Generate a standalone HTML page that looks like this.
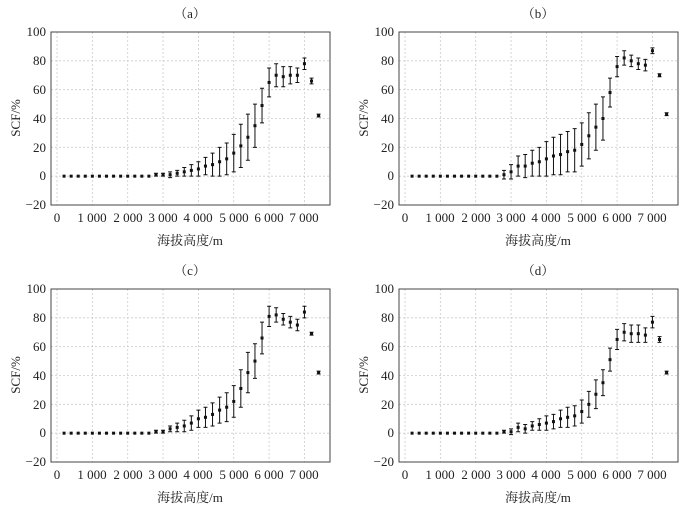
<!DOCTYPE html>
<html><head><meta charset="utf-8">
<style>
html,body{margin:0;padding:0;background:#fff;}
svg{display:block;font-family:"Liberation Serif","Noto Serif CJK SC",serif;}
.t{font-size:13px;fill:#222;}
.g{stroke:#ccc;stroke-width:0.8;stroke-dasharray:2,2;}
</style></head><body>
<svg id="s" width="700" height="507" viewBox="0 0 700 507">
<g id="p0" transform="translate(51,32)">
<text class="t" x="139" y="-14" text-anchor="middle">（a）</text>
<text class="t" x="-5" y="4" text-anchor="end">100</text><text class="t" x="-5" y="33" text-anchor="end">80</text><text class="t" x="-5" y="62" text-anchor="end">60</text><text class="t" x="-5" y="91" text-anchor="end">40</text><text class="t" x="-5" y="120" text-anchor="end">20</text><text class="t" x="-5" y="148" text-anchor="end">0</text><text class="t" x="-5" y="177" text-anchor="end">−20</text>
<text class="t" x="6" y="190" text-anchor="middle">0</text><text class="t" x="41" y="190" text-anchor="middle">1 000</text><text class="t" x="77" y="190" text-anchor="middle">2 000</text><text class="t" x="112" y="190" text-anchor="middle">3 000</text><text class="t" x="147" y="190" text-anchor="middle">4 000</text><text class="t" x="183" y="190" text-anchor="middle">5 000</text><text class="t" x="218" y="190" text-anchor="middle">6 000</text><text class="t" x="253" y="190" text-anchor="middle">7 000</text>
<text class="t" x="139" y="213" text-anchor="middle">海拔高度/m</text>
<text class="t" x="-31" y="86" text-anchor="middle" transform="rotate(-90 -31 86)">SCF/%</text>
</g>
<g id="p1" transform="translate(399,32)">
<text class="t" x="139" y="-14" text-anchor="middle">（b）</text>
<text class="t" x="-5" y="4" text-anchor="end">100</text><text class="t" x="-5" y="33" text-anchor="end">80</text><text class="t" x="-5" y="62" text-anchor="end">60</text><text class="t" x="-5" y="91" text-anchor="end">40</text><text class="t" x="-5" y="120" text-anchor="end">20</text><text class="t" x="-5" y="148" text-anchor="end">0</text><text class="t" x="-5" y="177" text-anchor="end">−20</text>
<text class="t" x="6" y="190" text-anchor="middle">0</text><text class="t" x="41" y="190" text-anchor="middle">1 000</text><text class="t" x="77" y="190" text-anchor="middle">2 000</text><text class="t" x="112" y="190" text-anchor="middle">3 000</text><text class="t" x="147" y="190" text-anchor="middle">4 000</text><text class="t" x="183" y="190" text-anchor="middle">5 000</text><text class="t" x="218" y="190" text-anchor="middle">6 000</text><text class="t" x="253" y="190" text-anchor="middle">7 000</text>
<text class="t" x="139" y="213" text-anchor="middle">海拔高度/m</text>
<text class="t" x="-31" y="86" text-anchor="middle" transform="rotate(-90 -31 86)">SCF/%</text>
</g>
<g id="p2" transform="translate(51,289)">
<text class="t" x="139" y="-14" text-anchor="middle">（c）</text>
<text class="t" x="-5" y="4" text-anchor="end">100</text><text class="t" x="-5" y="33" text-anchor="end">80</text><text class="t" x="-5" y="62" text-anchor="end">60</text><text class="t" x="-5" y="91" text-anchor="end">40</text><text class="t" x="-5" y="120" text-anchor="end">20</text><text class="t" x="-5" y="148" text-anchor="end">0</text><text class="t" x="-5" y="177" text-anchor="end">−20</text>
<text class="t" x="6" y="190" text-anchor="middle">0</text><text class="t" x="41" y="190" text-anchor="middle">1 000</text><text class="t" x="77" y="190" text-anchor="middle">2 000</text><text class="t" x="112" y="190" text-anchor="middle">3 000</text><text class="t" x="147" y="190" text-anchor="middle">4 000</text><text class="t" x="183" y="190" text-anchor="middle">5 000</text><text class="t" x="218" y="190" text-anchor="middle">6 000</text><text class="t" x="253" y="190" text-anchor="middle">7 000</text>
<text class="t" x="139" y="213" text-anchor="middle">海拔高度/m</text>
<text class="t" x="-31" y="86" text-anchor="middle" transform="rotate(-90 -31 86)">SCF/%</text>
</g>
<g id="p3" transform="translate(399,289)">
<text class="t" x="139" y="-14" text-anchor="middle">（d）</text>
<text class="t" x="-5" y="4" text-anchor="end">100</text><text class="t" x="-5" y="33" text-anchor="end">80</text><text class="t" x="-5" y="62" text-anchor="end">60</text><text class="t" x="-5" y="91" text-anchor="end">40</text><text class="t" x="-5" y="120" text-anchor="end">20</text><text class="t" x="-5" y="148" text-anchor="end">0</text><text class="t" x="-5" y="177" text-anchor="end">−20</text>
<text class="t" x="6" y="190" text-anchor="middle">0</text><text class="t" x="41" y="190" text-anchor="middle">1 000</text><text class="t" x="77" y="190" text-anchor="middle">2 000</text><text class="t" x="112" y="190" text-anchor="middle">3 000</text><text class="t" x="147" y="190" text-anchor="middle">4 000</text><text class="t" x="183" y="190" text-anchor="middle">5 000</text><text class="t" x="218" y="190" text-anchor="middle">6 000</text><text class="t" x="253" y="190" text-anchor="middle">7 000</text>
<text class="t" x="139" y="213" text-anchor="middle">海拔高度/m</text>
<text class="t" x="-31" y="86" text-anchor="middle" transform="rotate(-90 -31 86)">SCF/%</text>
</g>
</svg>
<script>
var D=[
[[1,1],[1,1],[1,2],[2,2],[3,3],[4,4],[5,5],[7,6],[8,8],[10,10],[12,11],[16,13],[21,15],[27,16],[35,15],[49,12],[65,10],[70,8],[69,7],[70,6],[70,5],[78,4],[66,2],[42,1]],
[[1,3],[3,5],[7,7],[7,8],[9,9],[10,10],[12,12],[14,13],[15,14],[17,14],[18,15],[22,15],[28,16],[34,16],[40,15],[58,10],[76,7],[82,5],[80,4],[78,4],[77,4],[87,2],[70,1],[43,1]],
[[1,1],[1,1],[3,2],[4,3],[5,4],[7,5],[10,6],[11,7],[13,8],[16,9],[18,10],[22,11],[31,13],[42,14],[50,12],[66,11],[81,7],[82,5],[79,4],[77,4],[75,4],[84,4],[69,1],[42,1]],
[[1,1],[1,2],[4,3],[3,3],[5,3],[6,4],[7,5],[8,5],[10,6],[11,7],[12,7],[15,8],[20,9],[27,10],[35,9],[51,8],[65,7],[70,6],[69,6],[69,6],[68,5],[77,4],[65,2],[42,1]]];
var NS="http://www.w3.org/2000/svg";
function el(p,t,a){var e=document.createElementNS(NS,t);for(var k in a)e.setAttribute(k,a[k]);p.insertBefore(e,p.firstChild);return e;}
function Y(v){return (100-v)/120*173;}
function X(x){return 6+x*0.03535;}
for(var i=0;i<4;i++){
 var g=document.getElementById('p'+i);
 var h=document.createElementNS(NS,'g');g.appendChild(h);
 for(var v=-20;v<=100;v+=20){el(h,'line',{x1:0,x2:279,y1:Y(v),y2:Y(v),'class':'g'});}
 for(var x=0;x<=7000;x+=1000){el(h,'line',{x1:X(x),x2:X(x),y1:0,y2:173,'class':'g'});}
 var b=document.createElementNS(NS,'rect');b.setAttribute('x',0);b.setAttribute('y',0);b.setAttribute('width',279);b.setAttribute('height',173);b.setAttribute('fill','none');b.setAttribute('stroke','#444');b.setAttribute('stroke-width','1');h.appendChild(b);
 for(var k=0;k<37;k++){
  var xv=200+k*200,m=0,e=0;
  if(k>=13){m=D[i][k-13][0];e=D[i][k-13][1];}
  var px=X(xv);
  if(e>=1){
   var a=document.createElementNS(NS,'path');
   var y1=Y(m+e),y2=Y(m-e);
   a.setAttribute('d','M'+px+' '+y1+'V'+y2+'M'+(px-2)+' '+y1+'H'+(px+2)+'M'+(px-2)+' '+y2+'H'+(px+2));
   a.setAttribute('stroke','#111');a.setAttribute('stroke-width','1');a.setAttribute('fill','none');h.appendChild(a);
  }
  var c=document.createElementNS(NS,'rect');c.setAttribute('x',px-1.5);c.setAttribute('y',Y(m)-1.5);c.setAttribute('width',3);c.setAttribute('height',3);c.setAttribute('fill','#111');h.appendChild(c);
 }
}
</script>
</body></html>
